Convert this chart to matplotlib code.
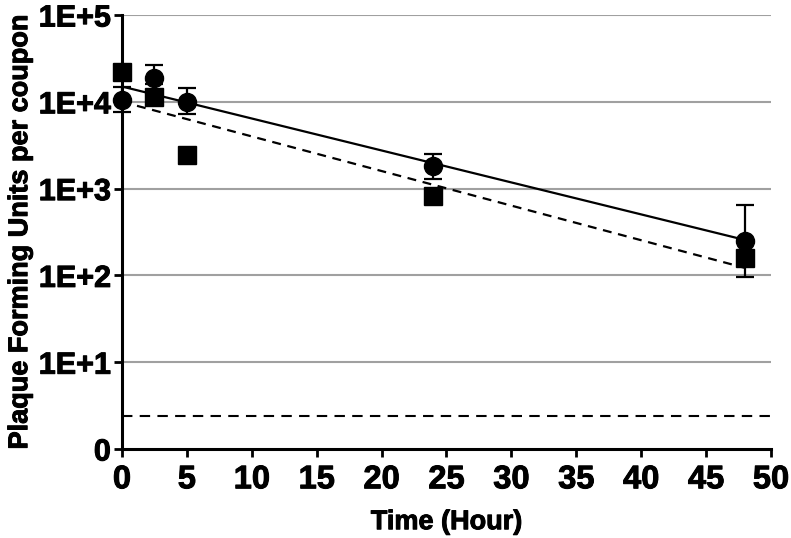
import matplotlib
matplotlib.use('Agg')
import matplotlib.pyplot as plt
import matplotlib.patheffects as pe

plt.rcParams['font.family'] = ['Liberation Sans', 'DejaVu Sans']
plt.rcParams['font.weight'] = 'bold'

# circles: mean with error bars
t_circ = [0, 2.5, 5, 24, 48]
pfu_circ = [1.05e4, 1.87e4, 1.0e4, 1.82e3, 250]
err_lo = [7.6e3, 1.6e4, 7.2e3, 1.29e3, 96]
err_hi = [1.48e4, 2.65e4, 1.44e4, 2.5e3, 645]

# squares
t_sq = [0, 2.5, 5, 24, 48]
pfu_sq = [2.2e4, 1.14e4, 2.45e3, 820, 158]

# fitted decay lines (endpoints)
fit_t = [0, 48]
fit_circ = [1.5e4, 256]
fit_sq = [1.0e4, 122]

lod = 2.4
yticks = [1, 10, 100, 1e3, 1e4, 1e5]
ylabels = ['0', '1E+1', '1E+2', '1E+3', '1E+4', '1E+5']
xticks = [0, 5, 10, 15, 20, 25, 30, 35, 40, 45, 50]

fig = plt.figure(figsize=(7.91, 5.38), dpi=100)
ax = fig.add_axes([0.1542, 0.1654, 0.8205, 0.8067])
ax.set_yscale('log')

for yv in yticks[1:]:
    ax.axhline(yv, color='#a0a0a0', lw=1.5, zorder=0)

ax.plot([0, 50], [lod, lod], color='black', lw=1.5, ls=(0, (5, 3.5)), zorder=1)

ax.plot(fit_t, fit_circ, color='black', lw=1.6, zorder=2)
ax.plot(fit_t, fit_sq, color='black', lw=1.6, ls=(0, (4, 3)), zorder=2)

yerr = [[p - lo for p, lo in zip(pfu_circ, err_lo)],
        [hi - p for p, hi in zip(pfu_circ, err_hi)]]
ax.errorbar(t_circ, pfu_circ, yerr=yerr, fmt='o', color='black', ms=13,
            capsize=6.5, elinewidth=1.6, capthick=1.6, clip_on=False, zorder=4)
ax.plot(t_sq, pfu_sq, 's', color='black', ms=12.5, clip_on=False, zorder=3)

ax.set_xlim(0, 50)
ax.set_ylim(1, 1e5)
ax.set_xticks(xticks)
ax.set_xticklabels([str(x) for x in xticks])
ax.set_yticks(yticks)
ax.set_yticklabels(ylabels)
ax.yaxis.set_minor_locator(matplotlib.ticker.NullLocator())

for s in ['top', 'right']:
    ax.spines[s].set_visible(False)
for s in ['left', 'bottom']:
    ax.spines[s].set_linewidth(2.2)

ax.tick_params(axis='y', direction='out', length=6, width=2, labelsize=22, pad=2)
ax.tick_params(axis='x', direction='out', length=6, width=2, labelsize=23.5, pad=5)
ax.set_xlabel('Time (Hour)', fontsize=19.5, fontweight='bold', labelpad=10)
ax.set_ylabel('Plaque Forming Units per coupon', fontsize=19.5, fontweight='bold', labelpad=4)

thick = [pe.withStroke(linewidth=0.7, foreground='black')]
for lab in ax.get_xticklabels() + ax.get_yticklabels():
    lab.set_path_effects(thick)
ax.xaxis.label.set_path_effects(thick)
ax.yaxis.label.set_path_effects(thick)

fig.savefig('out.png', dpi=100)
